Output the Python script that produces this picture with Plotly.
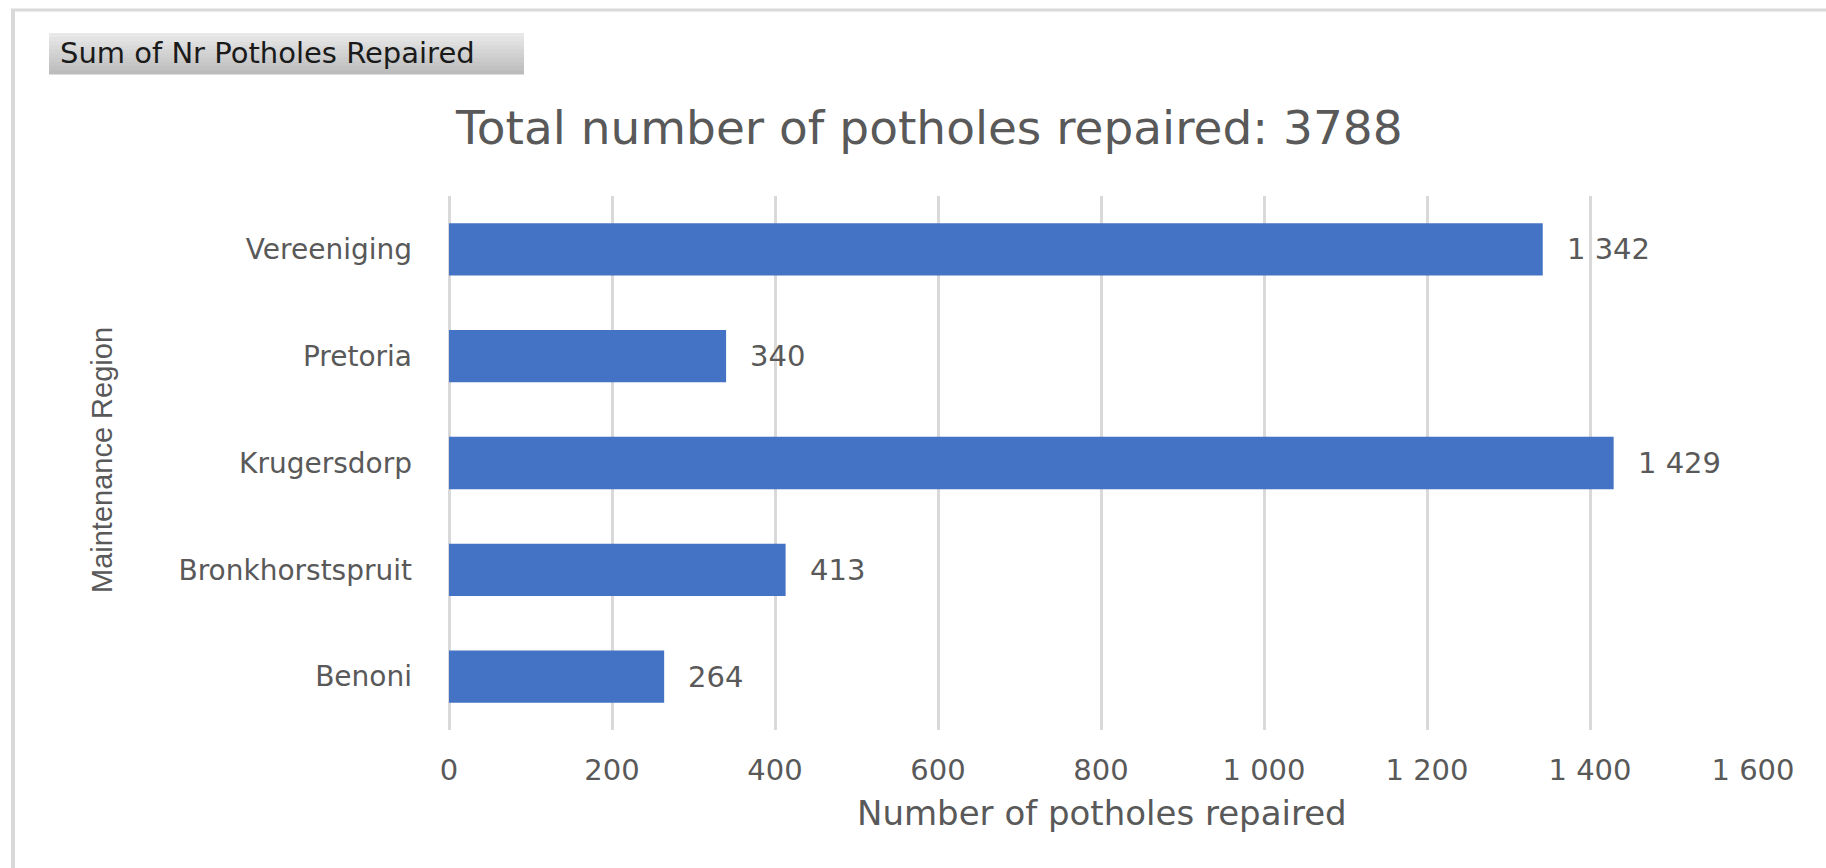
import plotly.graph_objects as go

regions = ["Benoni", "Bronkhorstspruit", "Krugersdorp", "Pretoria", "Vereeniging"]
repaired = [264, 413, 1429, 340, 1342]
x_ticks = [0, 200, 400, 600, 800, 1000, 1200, 1400, 1600]
title_text = "Total number of potholes repaired: 3788"
button_text = "Sum of Nr Potholes Repaired"
x_title = "Number of potholes repaired"
y_title = "Maintenance Region"

W, H = 1826, 868
ML, MR, MT, MB = 449, 73, 196, 138
PW, PH = W - ML - MR, H - MT - MB

def px(x):
    return (x - ML) / PW

def py(y):
    return (H - MB - y) / PH

BAR = "#4472C4"
TXT = "#595959"
GRID = "#D9D9D9"
FONT = "DejaVu Sans"

fig = go.Figure()
fig.add_trace(go.Bar(
    x=repaired, y=regions, orientation="h",
    marker=dict(color=BAR, line=dict(width=0)),
    width=0.49, hoverinfo="skip",
))

annotations = []
for r, v in zip(regions, repaired):
    annotations.append(dict(
        x=v, y=r, xref="x", yref="y", text=f"{v:,}".replace(",", " "),
        showarrow=False, xanchor="left", yanchor="middle", xshift=22,
        font=dict(family=FONT, size=29, color=TXT),
    ))

annotations.append(dict(
    x=px(929), y=py(128), xref="paper", yref="paper", text=title_text,
    showarrow=False, xanchor="center", yanchor="middle",
    font=dict(family=FONT, size=47, color=TXT),
))
annotations.append(dict(
    x=px(58), y=py(53), xref="paper", yref="paper", text=button_text,
    showarrow=False, xanchor="left", yanchor="middle",
    font=dict(family=FONT, size=29, color="#1A1A1A"),
))
annotations.append(dict(
    x=px(1102), y=py(813), xref="paper", yref="paper", text=x_title,
    showarrow=False, xanchor="center", yanchor="middle",
    font=dict(family=FONT, size=34, color=TXT),
))
annotations.append(dict(
    x=px(102), y=py(460), xref="paper", yref="paper", text=y_title,
    showarrow=False, xanchor="center", yanchor="middle", textangle=-90,
    font=dict(family="Liberation Sans", size=29, color=TXT),
))

shapes = [
    dict(type="line", xref="paper", yref="paper", x0=px(11), x1=px(1830), y0=py(10), y1=py(10),
         line=dict(color=GRID, width=3)),
    dict(type="line", xref="paper", yref="paper", x0=px(13), x1=px(13), y0=py(9), y1=py(870),
         line=dict(color=GRID, width=4)),
]
b_top, b_bot, n_bands = 33, 74, 10
c_top, c_bot = (0xE8, 0xE8, 0xE8), (0xBC, 0xBC, 0xBC)
for i in range(n_bands):
    y0 = b_top + (b_bot - b_top) * i / n_bands
    y1 = b_top + (b_bot - b_top) * (i + 1) / n_bands
    t = i / (n_bands - 1)
    c = tuple(int(round(a + (b - a) * t)) for a, b in zip(c_top, c_bot))
    shapes.append(dict(type="rect", xref="paper", yref="paper", x0=px(49), x1=px(524),
                       y0=py(y0), y1=py(y1 + 0.5), fillcolor="rgb(%d,%d,%d)" % c,
                       line=dict(width=0), layer="below"))

fig.update_layout(
    width=W, height=H,
    margin=dict(l=ML, r=MR, t=MT, b=MB, pad=0),
    paper_bgcolor="white", plot_bgcolor="white",
    separators=". ",
    showlegend=False,
    annotations=annotations,
    shapes=shapes,
    xaxis=dict(
        range=[0, 1600], tickvals=x_ticks, tickformat=",",
        showgrid=True, gridcolor=GRID, gridwidth=3,
        zeroline=True, zerolinecolor=GRID, zerolinewidth=3,
        showline=False, ticks="",
        tickfont=dict(family=FONT, size=29, color=TXT),
        ticklabelstandoff=20,
        fixedrange=True,
    ),
    yaxis=dict(
        categoryorder="array", categoryarray=regions,
        showgrid=False, zeroline=False,
        showline=False, ticks="",
        tickfont=dict(family=FONT, size=28, color=TXT),
        ticklabelstandoff=36,
        range=[-0.5, 4.5],
        fixedrange=True,
    ),
)

fig.write_html("out.html", config={"displayModeBar": False},
               post_script="document.body.style.margin='0';")
